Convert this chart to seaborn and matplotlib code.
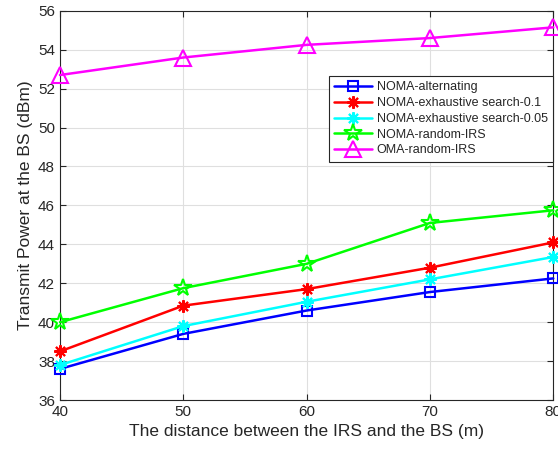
import numpy as np
import pandas as pd
import matplotlib
matplotlib.use('Agg')
import matplotlib.pyplot as plt
import seaborn as sns

# Data
distance = [40, 50, 60, 70, 80]
noma_alt = [37.6, 39.4, 40.6, 41.55, 42.25]
noma_es01 = [38.5, 40.85, 41.7, 42.8, 44.1]
noma_es005 = [37.8, 39.8, 41.05, 42.2, 43.35]
noma_rand = [40.0, 41.75, 43.0, 45.1, 45.75]
oma_rand = [52.7, 53.6, 54.25, 54.6, 55.15]

labels = ['NOMA-alternating', 'NOMA-exhaustive search-0.1', 'NOMA-exhaustive search-0.05',
          'NOMA-random-IRS', 'OMA-random-IRS']
series = [noma_alt, noma_es01, noma_es005, noma_rand, oma_rand]
colors = ['#0000ff', '#ff0000', '#00ffff', '#00ff00', '#ff00ff']
markers = ['s', (8, 2, 0), (8, 2, 0), '*', '^']
msizes = [7, 9, 9, 13, 11]

df = pd.concat([pd.DataFrame({'distance': distance, 'power': v, 'scheme': l})
                for l, v in zip(labels, series)], ignore_index=True)

sns.set_style('whitegrid')
plt.rcParams['font.family'] = ['Liberation Sans', 'DejaVu Sans']

fig = plt.figure(figsize=(5.58, 4.5), dpi=100)
ax = fig.add_axes([0.1075, 0.111, 0.884, 0.865])

for l, c, m, ms in zip(labels, colors, markers, msizes):
    sub = df[df['scheme'] == l]
    sns.lineplot(data=sub, x='distance', y='power', ax=ax, color=c, marker=m,
                 markersize=ms, markerfacecolor='none', markeredgecolor=c,
                 markeredgewidth=1.5, linewidth=1.8, label=l, clip_on=False, zorder=3)

ax.set_xlim(40, 80)
ax.set_ylim(36, 56)
ax.set_xticks(distance)
ax.set_yticks(np.arange(36, 57, 2))
ax.grid(True, color='#dfdfdf', linewidth=0.8)
for s in ax.spines.values():
    s.set_visible(True)
    s.set_color('#262626')
    s.set_linewidth(0.8)
ax.tick_params(direction='in', length=4, labelsize=11, colors='#262626',
               top=True, right=True, bottom=True, left=True, labelcolor='#262626')
ax.set_xlabel('The distance between the IRS and the BS (m)', fontsize=12.5, color='#262626')
ax.set_ylabel('Transmit Power at the BS (dBm)', fontsize=12.5, color='#262626')

leg = ax.legend(loc='upper right', bbox_to_anchor=(1.0, 0.833), fontsize=9.0,
                frameon=True, fancybox=False, framealpha=1, edgecolor='#262626',
                borderpad=0.45, labelspacing=0.3, handlelength=3.0, handletextpad=0.4,
                borderaxespad=0)
leg.get_frame().set_linewidth(0.8)
leg.set_zorder(5)

fig.savefig('out.png', dpi=100)
